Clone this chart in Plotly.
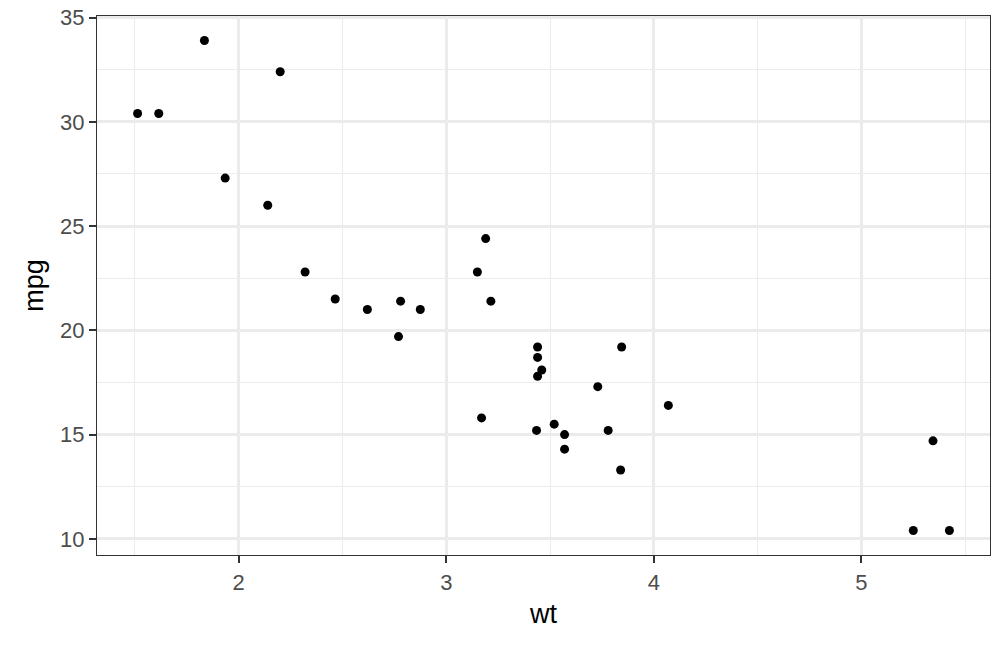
import plotly.graph_objects as go

wt = [2.620, 2.875, 2.320, 3.215, 3.440, 3.460, 3.570, 3.190, 3.150, 3.440, 3.440,
      4.070, 3.730, 3.780, 5.250, 5.424, 5.345, 2.200, 1.615, 1.835, 2.465, 3.520,
      3.435, 3.840, 3.845, 1.935, 2.140, 1.513, 3.170, 2.770, 3.570, 2.780]
mpg = [21.0, 21.0, 22.8, 21.4, 18.7, 18.1, 14.3, 24.4, 22.8, 19.2, 17.8, 16.4,
       17.3, 15.2, 10.4, 10.4, 14.7, 32.4, 30.4, 33.9, 21.5, 15.5, 15.2, 13.3,
       19.2, 27.3, 26.0, 30.4, 15.8, 19.7, 15.0, 21.4]
x_ticks = [2, 3, 4, 5]
y_ticks = [10, 15, 20, 25, 30, 35]
x_minor = [1.5, 2.5, 3.5, 4.5, 5.5]
y_minor = [12.5, 17.5, 22.5, 27.5, 32.5]

xmin, xmax = min(wt), max(wt)
ymin, ymax = min(mpg), max(mpg)
xr = [xmin - 0.05 * (xmax - xmin), xmax + 0.05 * (xmax - xmin)]
yr = [ymin - 0.05 * (ymax - ymin), ymax + 0.05 * (ymax - ymin)]

fig = go.Figure(go.Scatter(x=wt, y=mpg, mode="markers",
                           marker=dict(color="black", size=9, line=dict(width=0))))

FONT = "Liberation Sans, Arial, sans-serif"
axis_common = dict(
    showgrid=True, gridcolor="#EBEBEB", gridwidth=2.6,
    minor=dict(showgrid=True, gridcolor="#EBEBEB", gridwidth=1.4, ticks=""),
    zeroline=False, showline=True, linecolor="#333333", linewidth=1.4, mirror=True,
    ticks="outside", ticklen=7, tickwidth=2.4, tickcolor="#333333",
    tickfont=dict(family=FONT, size=22, color="#4D4D4D"),
    title_font=dict(family=FONT, size=27, color="black"),
    automargin=False,
)

fig.update_xaxes(range=xr, tickvals=x_ticks, ticktext=[str(v) for v in x_ticks],
                 minor_tickvals=x_minor, title_text="wt", title_standoff=10, **axis_common)
fig.update_yaxes(range=yr, tickvals=y_ticks, ticktext=[str(v) for v in y_ticks],
                 minor_tickvals=y_minor, title_text="mpg", title_standoff=8, **axis_common)

fig.update_layout(width=1008, height=648, plot_bgcolor="white", paper_bgcolor="white",
                  margin=dict(l=97, r=18, t=16, b=93), showlegend=False)

fig.write_html("out.html", config={"displayModeBar": False},
               post_script="document.body.style.margin='0';")
